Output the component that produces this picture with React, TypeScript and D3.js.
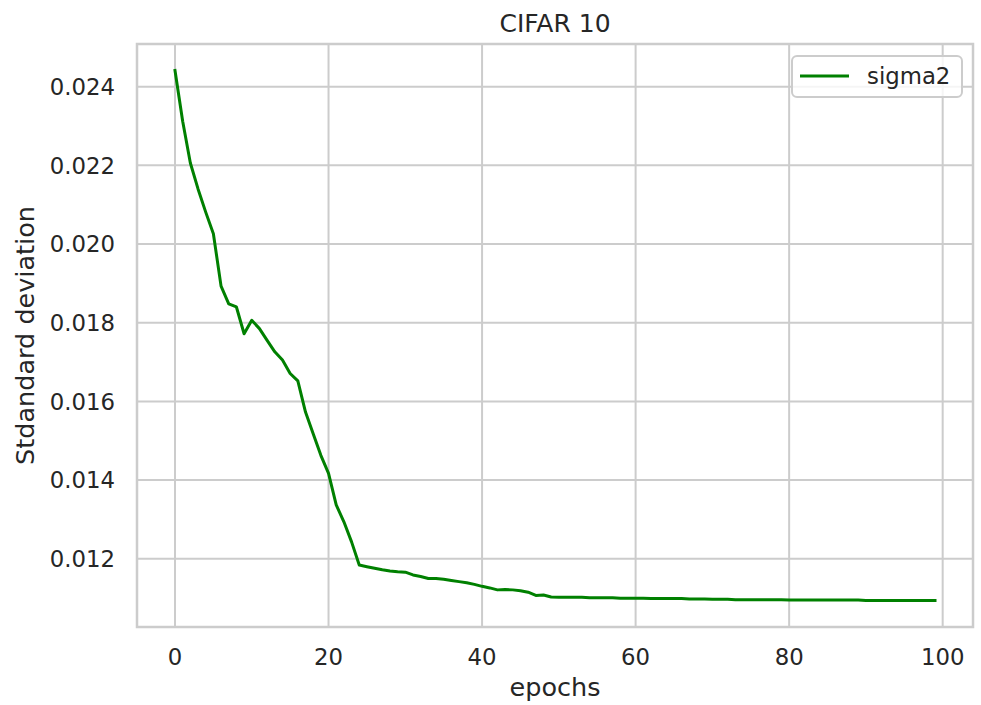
import React from 'react';
import * as d3 from 'd3';

// sigma2 per epoch
const epochs = d3.range(0, 100);
const sigma2 = [
  0.02441, 0.02312, 0.02206, 0.02140, 0.02081, 0.02026, 0.01893, 0.01848, 0.01840, 0.01772,
  0.01806, 0.01785, 0.01755, 0.01726, 0.01705, 0.01671, 0.01652, 0.01573, 0.01518, 0.01463,
  0.01417, 0.01337, 0.01294, 0.01243, 0.01184, 0.01180, 0.01176, 0.01172, 0.01169, 0.01167,
  0.01166, 0.01159, 0.01155, 0.01150, 0.01150, 0.01148, 0.01145, 0.01142, 0.01139, 0.01135,
  0.01130, 0.01126, 0.01121, 0.01122, 0.01121, 0.01119, 0.01115, 0.01107, 0.01108, 0.01103,
  0.01102, 0.01102, 0.01102, 0.01102, 0.01101, 0.01101, 0.01101, 0.01101, 0.01100, 0.01100,
  0.01100, 0.01100, 0.01099, 0.01099, 0.01099, 0.01099, 0.01099, 0.01098, 0.01098, 0.01098,
  0.01097, 0.01097, 0.01097, 0.01096, 0.01096, 0.01096, 0.01096, 0.01096, 0.01096, 0.01096,
  0.01095, 0.01095, 0.01095, 0.01095, 0.01095, 0.01095, 0.01095, 0.01095, 0.01095, 0.01095,
  0.01094, 0.01094, 0.01094, 0.01094, 0.01094, 0.01094, 0.01094, 0.01094, 0.01094, 0.01094,
];
const xTicks = [0, 20, 40, 60, 80, 100];
const yTicks = [0.012, 0.014, 0.016, 0.018, 0.02, 0.022, 0.024];

const width = 981, height = 705;
const margin = {top: 44, right: 8, bottom: 78, left: 137};
const textColor = '#262626';
const gridColor = '#cccccc';
const font = '"DejaVu Sans", sans-serif';

export default function App() {
  // matplotlib-style 5% padding around the data
  const xPad = (d3.max(epochs)! - d3.min(epochs)!) * 0.05;
  const x = d3.scaleLinear()
    .domain([d3.min(epochs)! - xPad, d3.max(epochs)! + xPad])
    .range([margin.left, width - margin.right]);
  const [ymin, ymax] = d3.extent(sigma2) as [number, number];
  const yPad = (ymax - ymin) * 0.05;
  const y = d3.scaleLinear()
    .domain([ymin - yPad, ymax + yPad])
    .range([height - margin.bottom, margin.top]);

  const line = d3.line<number>()
    .x((d, i) => x(epochs[i]))
    .y(d => y(d));

  const x0 = margin.left, x1 = width - margin.right;
  const y0 = margin.top, y1 = height - margin.bottom;
  const cx = (x0 + x1) / 2;

  return (
    <svg width={width} height={height} style={{position: 'fixed', left: 0, top: 0, background: '#fff'}}
      fontFamily={font}>
      <rect x={0} y={0} width={width} height={height} fill="#fff" />
      {/* grid */}
      {xTicks.map(t => (
        <line key={'gx' + t} x1={x(t)} x2={x(t)} y1={y0} y2={y1} stroke={gridColor} strokeWidth={2} />
      ))}
      {yTicks.map(t => (
        <line key={'gy' + t} x1={x0} x2={x1} y1={y(t)} y2={y(t)} stroke={gridColor} strokeWidth={2} />
      ))}
      {/* data line */}
      <path d={line(sigma2) ?? ''} fill="none" stroke="#008000" strokeWidth={3}
        strokeLinejoin="round" strokeLinecap="square" />
      {/* frame */}
      <rect x={x0} y={y0} width={x1 - x0} height={y1 - y0} fill="none" stroke={gridColor} strokeWidth={2.5} />
      {/* tick labels */}
      {xTicks.map(t => (
        <text key={'tx' + t} x={x(t)} y={665} textAnchor="middle" fontSize={22.8} fill={textColor}>{t}</text>
      ))}
      {yTicks.map(t => (
        <text key={'ty' + t} x={115} y={y(t) + 8.2} textAnchor="end" fontSize={22.8} fill={textColor}>
          {d3.format('.3f')(t)}
        </text>
      ))}
      {/* labels */}
      <text x={cx} y={32} textAnchor="middle" fontSize={25} fill={textColor}>CIFAR 10</text>
      <text x={cx} y={696} textAnchor="middle" fontSize={25.5} fill={textColor}>epochs</text>
      <text transform={`translate(34,${(y0 + y1) / 2}) rotate(-90)`} textAnchor="middle" fontSize={25.5}
        fill={textColor}>Stdandard deviation</text>
      {/* legend */}
      <rect x={792} y={56} width={170} height={41} rx={5} fill="#fff" fillOpacity={0.8}
        stroke={gridColor} strokeWidth={2} />
      <line x1={800} x2={849} y1={76} y2={76} stroke="#008000" strokeWidth={3} />
      <text x={867} y={84} fontSize={22.8} fill={textColor}>sigma2</text>
    </svg>
  );
}
